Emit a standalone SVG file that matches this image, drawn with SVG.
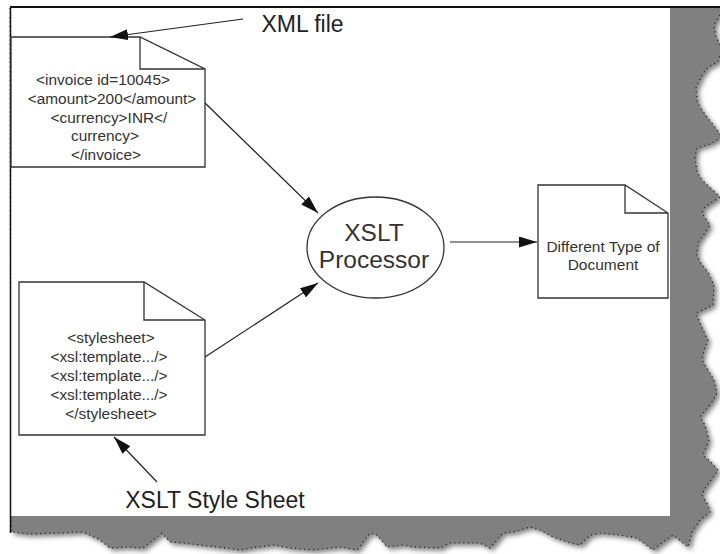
<svg xmlns="http://www.w3.org/2000/svg" width="720" height="554" viewBox="0 0 720 554">
<style>
.doc{fill:#fff;stroke:#333;stroke-width:1.3}
.fold{fill:none;stroke:#333;stroke-width:1.3}
.t{font-family:"Liberation Sans",Arial,sans-serif;fill:#333;text-anchor:middle}
.code{font-size:15.4px}
.lbl{font-size:23px;fill:#222}
.conn line{stroke:#222;stroke-width:1.2;marker-end:url(#ah)}
</style>
<defs>
<marker id="ah" viewBox="0 0 18 11" refX="18" refY="5.5" markerWidth="18" markerHeight="11" markerUnits="userSpaceOnUse" orient="auto">
<path d="M0,0 L18,5.5 L0,11 Z" fill="#111"/>
</marker>
<filter id="blur" x="-5%" y="-5%" width="110%" height="110%"><feGaussianBlur stdDeviation="2.5"/></filter>
<path id="torn" d="M10,7 L725,7 L714,25 L716,37 L722,48 L718,62 L708,67 L702,75 L696,88 L697,100 L700,107 L707,117 L715,127 L722,137 L710,144 L697,148 L695,157 L697,172 L702,180 L713,190 L720,197 L705,207 L702,213 L710,225 L705,233 L698,243 L697,255 L700,262 L708,272 L714,285 L713,305 L696,313 L700,323 L708,340 L704,350 L702,360 L708,370 L714,380 L717,393 L712,402 L700,417 L705,425 L709,440 L703,455 L711,462 L718,470 L704,490 L702,495 L708,505 L710,512 L700,520 L692,532 L688,547 L683,543 L673,535 L663,542 L653,550 L637,538 L620,535 L600,533 L590,535 L580,545 L570,543 L553,537 L540,530 L530,527 L513,532 L503,533 L490,548 L480,543 L450,543 L440,548 L413,547 L403,545 L387,547 L377,535 L370,533 L357,550 L340,547 L313,550 L290,548 L273,545 L250,548 L240,550 L217,547 L200,545 L183,543 L170,542 L162,533 L157,537 L143,548 L127,547 L110,548 L100,540 L83,532 L60,533 L30,534 L11,532 Z"/>
</defs>
<rect width="720" height="554" fill="#fff"/>
<g id="page">
<use href="#torn" fill="#808080" filter="url(#blur)" transform="translate(3,3)"/>
<use href="#torn" fill="#808080"/>
<use href="#torn" fill="none" stroke="#111" stroke-width="1.2" stroke-dasharray="1 3.5"/>
<rect x="11" y="7" width="659" height="509" fill="#fff"/>
<line x1="10" y1="7" x2="720" y2="7" stroke="#111" stroke-width="2"/>
<line x1="10.5" y1="7" x2="10.5" y2="533" stroke="#111" stroke-width="1.5"/>
</g>
<g id="xml-doc">
<path class="doc" d="M11,37 H140 L205,69 V167 H11 Z"/>
<path class="fold" d="M140,37 V69 H205"/>
<text class="t code" x="103" y="85">&lt;invoice id=10045&gt;</text>
<text class="t code" x="112" y="104">&lt;amount&gt;200&lt;/amount&gt;</text>
<text class="t code" x="109" y="122.5">&lt;currency&gt;INR&lt;/</text>
<text class="t code" x="105" y="141">currency&gt;</text>
<text class="t code" x="106" y="160">&lt;/invoice&gt;</text>
</g>
<g id="xml-label">
<text class="t lbl" x="302.5" y="32">XML file</text>
</g>
<g id="stylesheet-doc">
<path class="doc" d="M19,282 H144 L205,320 V435 H19 Z"/>
<path class="fold" d="M144,282 V320 H205"/>
<text class="t code" x="111" y="343">&lt;stylesheet&gt;</text>
<text class="t code" x="109" y="362">&lt;xsl:template.../&gt;</text>
<text class="t code" x="109" y="381">&lt;xsl:template.../&gt;</text>
<text class="t code" x="109" y="400">&lt;xsl:template.../&gt;</text>
<text class="t code" x="111" y="419">&lt;/stylesheet&gt;</text>
</g>
<g id="stylesheet-label">
<text class="t lbl" x="215" y="508">XSLT Style Sheet</text>
</g>
<g id="processor">
<ellipse cx="375.5" cy="247.5" rx="68.5" ry="50.5" fill="#fff" stroke="#333" stroke-width="1.3"/>
<text class="t" x="374" y="241" font-size="24.5">XSLT</text>
<text class="t" x="374" y="268" font-size="24.5">Processor</text>
</g>
<g id="output-doc">
<path class="doc" d="M538,185 H625 L668,213 V298 H538 Z"/>
<path class="fold" d="M625,185 V213 H668"/>
<text class="t" x="603" y="252" font-size="15.5">Different Type of</text>
<text class="t" x="603" y="270" font-size="15.5">Document</text>
</g>
<g id="connectors" class="conn">
<line x1="243" y1="19" x2="110" y2="37"/>
<line x1="205" y1="103" x2="318" y2="213"/>
<line x1="205" y1="357" x2="318" y2="283"/>
<line x1="450" y1="242" x2="537" y2="242"/>
<line x1="157" y1="482" x2="114" y2="437"/>
</g>
</svg>
